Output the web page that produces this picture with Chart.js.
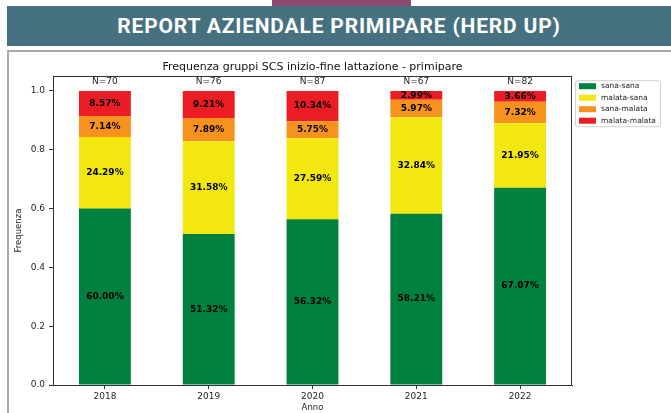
<!DOCTYPE html>
<html>
<head>
<meta charset="utf-8">
<script src="https://cdn.jsdelivr.net/npm/chart.js@4"></script>
<style>
  html, body { margin: 0; padding: 0; background: #fff; }
  body { width: 671px; height: 413px; position: relative; overflow: hidden; }
  .tab { position: absolute; left: 272px; top: 0; width: 139px; height: 6px; background: #8b4a6f; }
  .banner { position: absolute; left: 7px; top: 6px; right: 0; height: 40px; background: #457180; color: #fff;
    font: bold 21px Roboto, sans-serif; letter-spacing: 0.8px; text-align: center; line-height: 40px; }
  .frame { position: absolute; left: 7px; top: 50px; width: 700px; height: 400px; border: 2px solid #aaaaad; }
  #chart { position: absolute; left: 0; top: 0; }
</style>
</head>
<body>
<div class="tab"></div>
<div class="banner">REPORT AZIENDALE PRIMIPARE (HERD UP)</div>
<div class="frame"></div>
<canvas id="chart" width="671" height="413"></canvas>
<script>
// data (percent per year)
const years = ['2018', '2019', '2020', '2021', '2022'];
const counts = [70, 76, 87, 67, 82];
const sanaSana = [60.00, 51.32, 56.32, 58.21, 67.07];
const malataSana = [24.29, 31.58, 27.59, 32.84, 21.95];
const sanaMalata = [7.14, 7.89, 5.75, 5.97, 7.32];
const malataMalata = [8.57, 9.21, 10.34, 2.99, 3.66];
const yTicks = [0, 0.2, 0.4, 0.6, 0.8, 1.0];

const FONT = "'DejaVu Sans', sans-serif";
const INK = '#262626';

const series = [
  { label: 'sana-sana', pct: sanaSana, color: '#00813f' },
  { label: 'malata-sana', pct: malataSana, color: '#f2e70f' },
  { label: 'sana-malata', pct: sanaMalata, color: '#f7921e' },
  { label: 'malata-malata', pct: malataMalata, color: '#ec1c24' },
];

// percentage text in the middle of each segment + N= above each bar
const barLabels = {
  id: 'barLabels',
  afterDatasetsDraw(chart) {
    const ctx = chart.ctx;
    ctx.save();
    ctx.textAlign = 'center';
    ctx.textBaseline = 'middle';
    ctx.fillStyle = '#000';
    ctx.font = 'bold 9px ' + FONT;
    chart.data.datasets.forEach((ds, i) => {
      chart.getDatasetMeta(i).data.forEach((bar, j) => {
        ctx.fillText(ds.pct[j].toFixed(2) + '%', bar.x, (bar.y + bar.base) / 2);
      });
    });
    const y = chart.scales.y;
    ctx.font = '9px ' + FONT;
    ctx.fillStyle = INK;
    chart.getDatasetMeta(0).data.forEach((bar, j) => {
      ctx.fillText('N=' + counts[j], bar.x, y.getPixelForValue(1) - 9);
    });
    ctx.restore();
  }
};

// matplotlib-like box around the axes and the legend outside on the right
const frameAndLegend = {
  id: 'frameAndLegend',
  afterDraw(chart) {
    const { ctx, chartArea: a } = chart;
    ctx.save();
    ctx.strokeStyle = '#333';
    ctx.lineWidth = 1;
    ctx.strokeRect(Math.round(a.left) + 0.5, Math.round(a.top) + 0.5,
      Math.round(a.right - a.left) - 1, Math.round(a.bottom - a.top));

    const lx = a.right + 3, ly = a.top + 4;
    ctx.fillStyle = '#fff';
    ctx.strokeStyle = '#d0d0d0';
    ctx.beginPath();
    ctx.roundRect(lx + 0.5, ly + 0.5, 85, 46, 2);
    ctx.fill();
    ctx.stroke();
    ctx.font = '7.5px ' + FONT;
    ctx.textBaseline = 'middle';
    chart.data.datasets.forEach((ds, i) => {
      const cy = ly + 6 + i * 11.5;
      ctx.fillStyle = ds.backgroundColor;
      ctx.fillRect(lx + 4, cy - 3, 17, 6);
      ctx.fillStyle = INK;
      ctx.fillText(ds.label, lx + 26, cy);
    });
    ctx.restore();
  }
};

new Chart(document.getElementById('chart'), {
  type: 'bar',
  data: {
    labels: years,
    datasets: series.map(s => ({
      label: s.label,
      pct: s.pct,
      data: s.pct.map(v => v / 100),
      backgroundColor: s.color,
      barPercentage: 0.5,
      categoryPercentage: 1.0,
    }))
  },
  options: {
    responsive: false,
    animation: false,
    events: [],
    layout: { padding: { left: 10, right: 99, top: 56, bottom: 0 } },
    plugins: {
      legend: { display: false },
      tooltip: { enabled: false },
      title: {
        display: true,
        fullSize: false,
        text: 'Frequenza gruppi SCS inizio-fine lattazione - primipare',
        color: '#111',
        font: { family: FONT, size: 11, weight: 'normal' },
        padding: { top: 4.5, bottom: 2.5 }
      }
    },
    scales: {
      x: {
        stacked: true,
        afterFit: s => { s.height = 28; },
        grid: { drawOnChartArea: false, offset: false, tickLength: 4, color: '#333' },
        border: { color: '#333' },
        ticks: { color: INK, font: { family: FONT, size: 9 }, padding: 2 },
        title: { display: true, text: 'Anno', color: INK, font: { family: FONT, size: 8.5 }, padding: 0 }
      },
      y: {
        stacked: true,
        min: 0,
        max: 1.05,
        afterFit: s => { s.width = 43; },
        afterBuildTicks: s => { s.ticks = yTicks.map(v => ({ value: v })); },
        grid: { drawOnChartArea: false, tickLength: 4, color: '#333' },
        border: { color: '#333' },
        ticks: { color: INK, font: { family: FONT, size: 9 }, padding: 4, callback: v => v.toFixed(1) },
        title: { display: true, text: 'Frequenza', color: INK, font: { family: FONT, size: 8.5 }, padding: { top: 4 } }
      }
    }
  },
  plugins: [barLabels, frameAndLegend]
});
</script>
</body>
</html>
